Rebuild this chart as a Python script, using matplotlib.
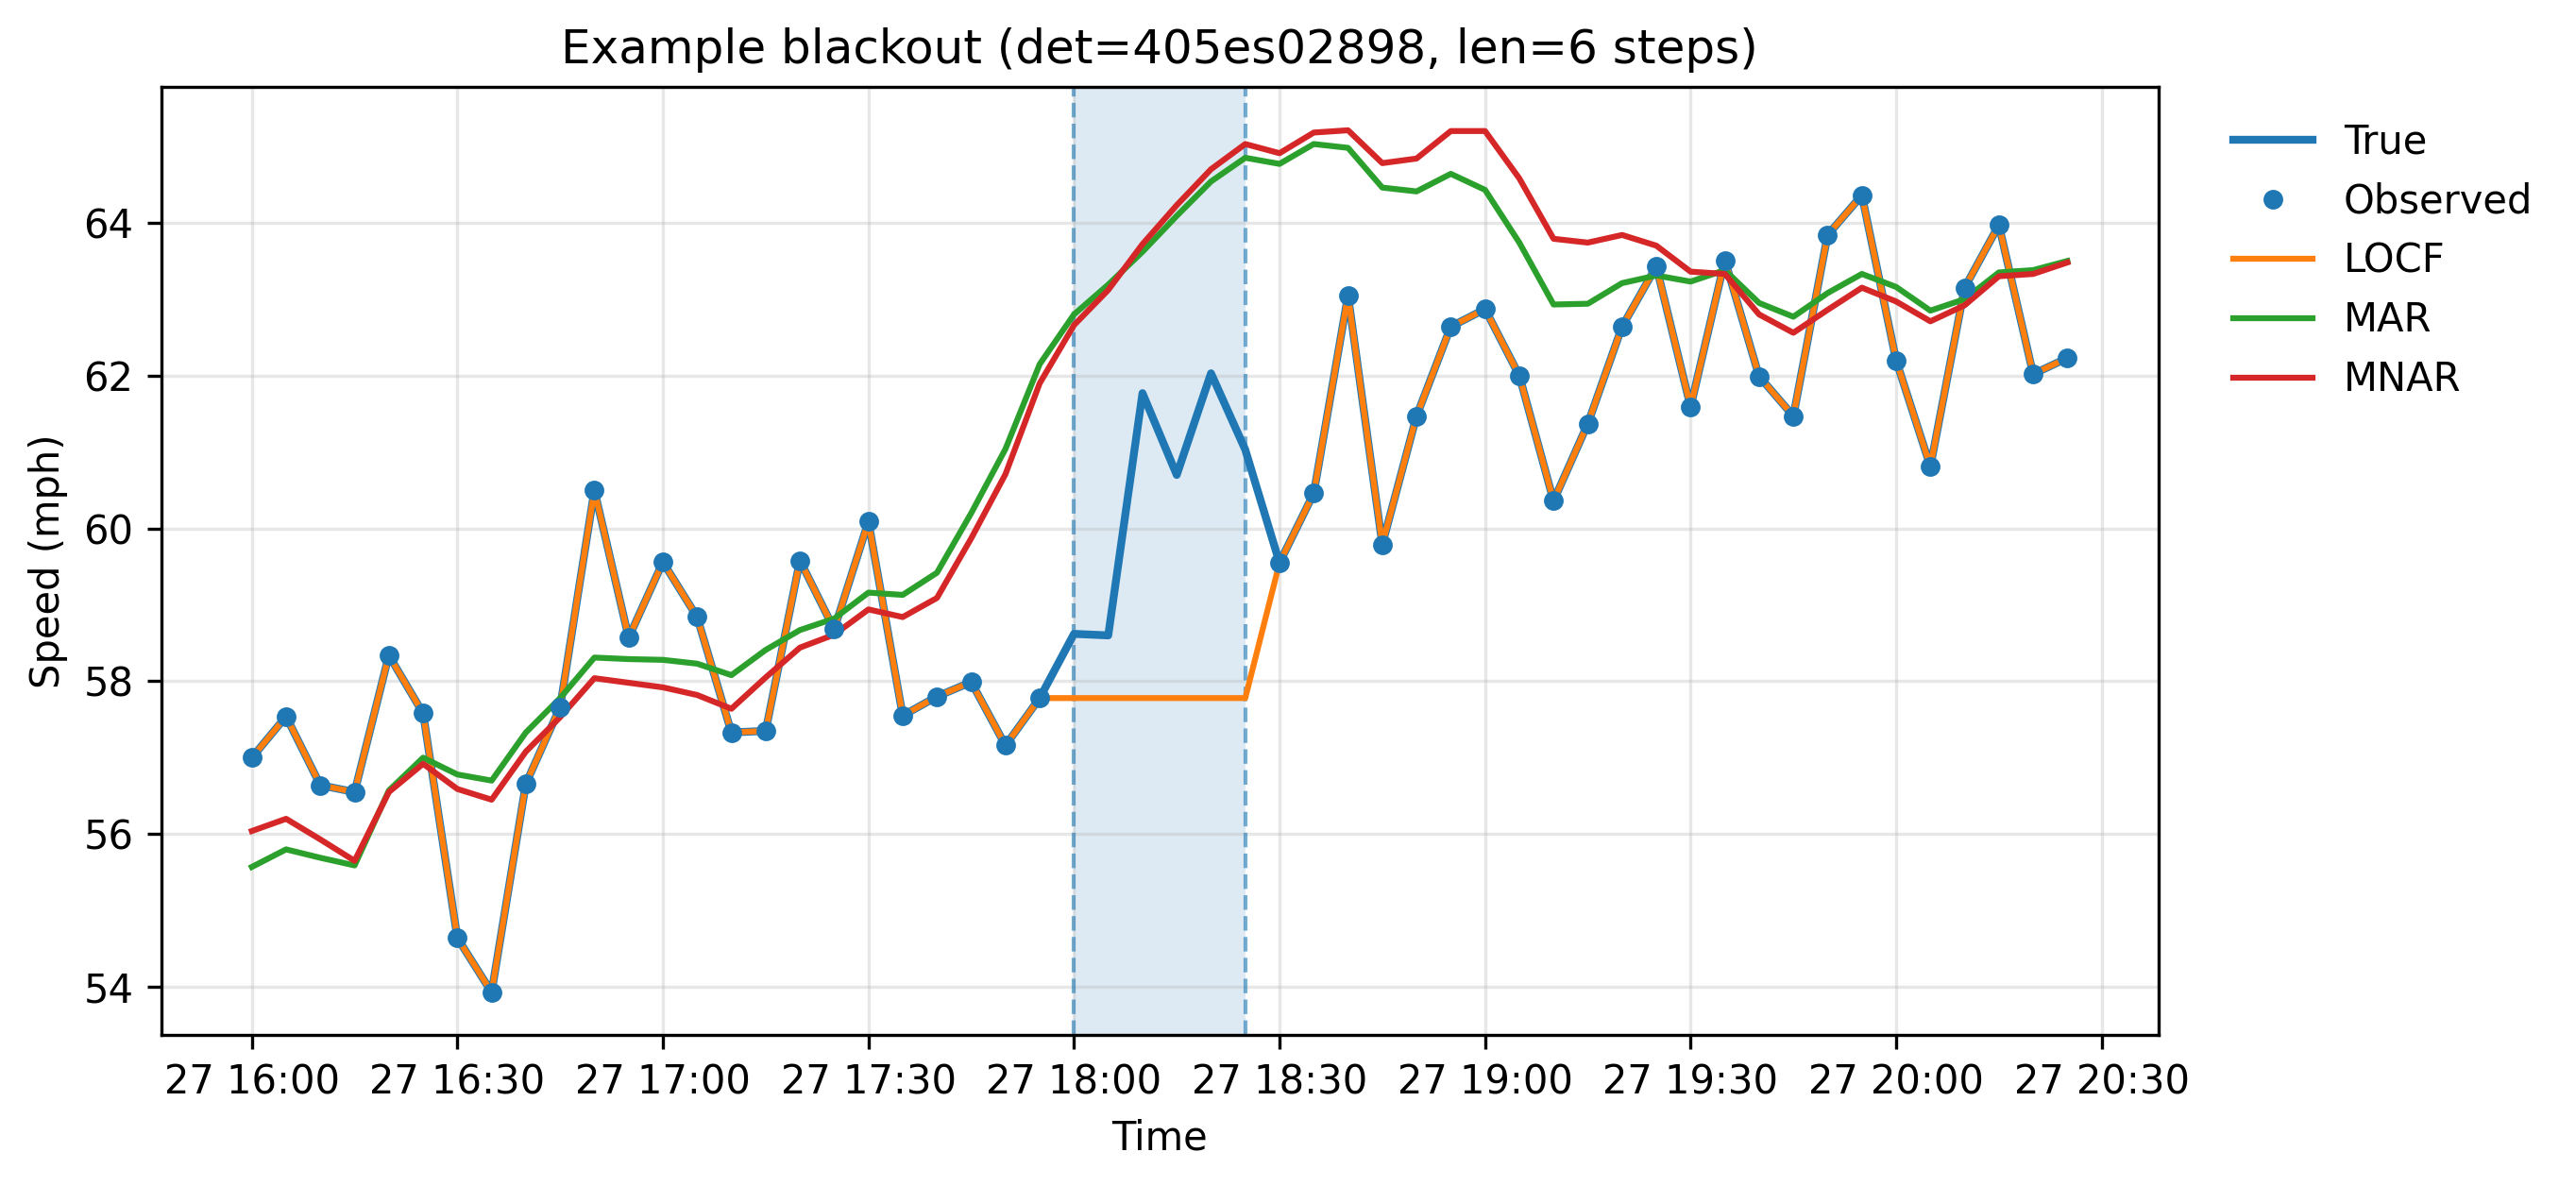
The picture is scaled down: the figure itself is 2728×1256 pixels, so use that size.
import numpy as np
import pandas as pd
import matplotlib
matplotlib.use("Agg")
import matplotlib.pyplot as plt
import matplotlib.dates as mdates

# 5-minute steps, 16:00 .. 20:25
times = pd.date_range("2024-05-27 16:00", periods=54, freq="5min")

true_speed = [
    57.00, 57.54, 56.64, 56.55, 58.34, 57.58, 54.64, 53.93, 56.66, 57.66,
    60.50, 58.57, 59.56, 58.84, 57.33, 57.35, 59.58, 58.68, 60.09, 57.55,
    57.80, 57.99, 57.16, 57.78, 58.62, 58.60, 61.77, 60.70, 62.03, 61.03,
    59.55, 60.46, 63.05, 59.79, 61.47, 62.64, 62.87, 62.00, 60.36, 61.37,
    62.64, 63.43, 61.59, 63.51, 61.99, 61.47, 63.84, 64.36, 62.20, 60.81,
    63.15, 63.97, 62.02, 62.23,
]

mar_speed = [
    55.57, 55.80, 55.69, 55.59, 56.57, 57.00, 56.78, 56.70, 57.33, 57.78,
    58.31, 58.29, 58.28, 58.23, 58.08, 58.41, 58.67, 58.82, 59.16, 59.13,
    59.42, 60.20, 61.04, 62.15, 62.80, 63.19, 63.62, 64.09, 64.54, 64.85,
    64.77, 65.03, 64.98, 64.46, 64.41, 64.64, 64.43, 63.74, 62.93, 62.94,
    63.21, 63.31, 63.23, 63.38, 62.95, 62.77, 63.08, 63.33, 63.16, 62.85,
    63.00, 63.35, 63.38, 63.50,
]

mnar_speed = [
    56.04, 56.20, 55.93, 55.65, 56.55, 56.92, 56.59, 56.45, 57.08, 57.53,
    58.04, 57.98, 57.92, 57.82, 57.64, 58.05, 58.44, 58.61, 58.94, 58.84,
    59.09, 59.87, 60.71, 61.90, 62.66, 63.12, 63.72, 64.23, 64.70, 65.03,
    64.91, 65.18, 65.21, 64.78, 64.84, 65.20, 65.20, 64.58, 63.79, 63.74,
    63.84, 63.70, 63.36, 63.33, 62.80, 62.56, 62.86, 63.15, 62.97, 62.71,
    62.92, 63.30, 63.33, 63.48,
]

blackout_start = 24  # 18:00
blackout_len = 6

true_s = pd.Series(true_speed, index=times)
observed = true_s.copy()
observed.iloc[blackout_start:blackout_start + blackout_len] = np.nan
locf = observed.ffill()

fig, ax = plt.subplots(figsize=(2729 / 300, 1256 / 300), dpi=300)
fig.subplots_adjust(left=0.0625, right=0.8375, top=0.9265, bottom=0.127)

t0 = times[blackout_start]
t1 = times[blackout_start + blackout_len - 1]
ax.axvspan(t0, t1, color="C0", alpha=0.15, lw=0)
ax.axvline(t0, color="C0", ls="--", lw=1, alpha=0.6)
ax.axvline(t1, color="C0", ls="--", lw=1, alpha=0.6)

ax.plot(times, true_s.values, color="C0", lw=2, label="True")
ax.plot(times, observed.values, "o", color="C0", ms=4, label="Observed", zorder=4)
ax.plot(times, locf.values, color="C1", lw=1.5, label="LOCF")
ax.plot(times, mar_speed, color="C2", lw=1.5, label="MAR")
ax.plot(times, mnar_speed, color="C3", lw=1.5, label="MNAR")

ax.xaxis.set_major_locator(mdates.MinuteLocator(byminute=[0, 30]))
ax.xaxis.set_major_formatter(mdates.DateFormatter("%d %H:%M"))
ax.grid(True, alpha=0.3)
ax.set_title("Example blackout (det=405es02898, len=6 steps)")
ax.set_xlabel("Time")
ax.set_ylabel("Speed (mph)")
ax.legend(loc="upper left", bbox_to_anchor=(1.02, 1), frameon=False)

fig.savefig("out.png", dpi=300)
